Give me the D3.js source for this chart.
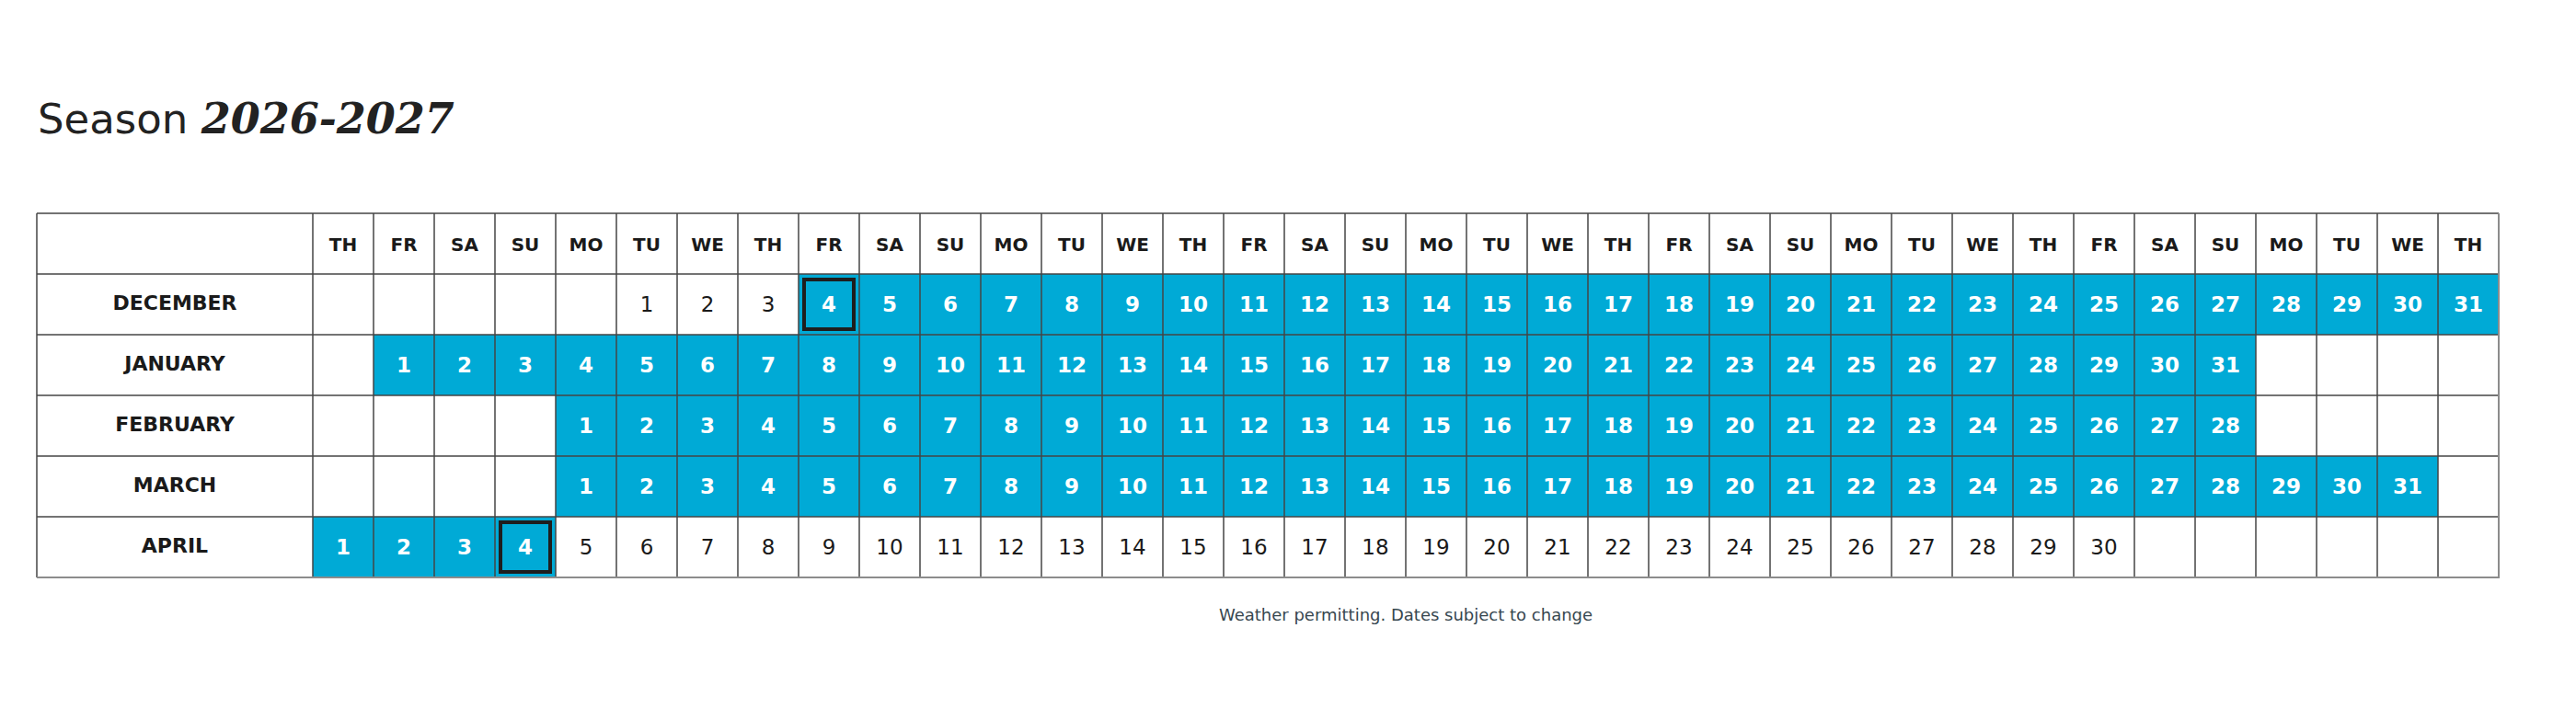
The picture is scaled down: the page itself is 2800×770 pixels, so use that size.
<!DOCTYPE html>
<html>
<head>
<meta charset="utf-8">
<script src="https://cdn.jsdelivr.net/npm/d3@7"></script>
<style>
  html, body { margin: 0; padding: 0; background: #fff; }
  svg { display: block; font-family: "DejaVu Sans", sans-serif; }
</style>
</head>
<body>
<div id="chart"></div>
<script>
// Season calendar, Dec 2026 - Apr 2027
const weekdayLabels = ['TH', 'FR', 'SA', 'SU', 'MO', 'TU', 'WE',
  'TH', 'FR', 'SA', 'SU', 'MO', 'TU', 'WE',
  'TH', 'FR', 'SA', 'SU', 'MO', 'TU', 'WE',
  'TH', 'FR', 'SA', 'SU', 'MO', 'TU', 'WE',
  'TH', 'FR', 'SA', 'SU', 'MO', 'TU', 'WE',
  'TH'];
const months = ['DECEMBER', 'JANUARY', 'FEBRUARY', 'MARCH', 'APRIL'];
// column (0-based) of the 1st of each month
const firstColumn = [5, 1, 4, 4, 0];
const daysInMonth = [31, 31, 28, 31, 30];
// open season range per month
const openFrom = [4, 1, 1, 1, 1];
const openTo = [31, 31, 28, 31, 4];
// opening and closing days get a frame
const markedDays = [{ month: 'DECEMBER', day: 4 }, { month: 'APRIL', day: 4 }];

const CONFIG = {
  width: 2800,
  height: 770,
  left: 40,
  labelRight: 340,
  right: 2716,
  top: 232,
  bottom: 628,
  blue: '#00aad6',
  grid: '#454545',
  edge: '#8c8c8c'
};

const svg = d3.select('#chart')
  .append('svg')
  .attr('width', CONFIG.width)
  .attr('height', CONFIG.height);

// Title
const title = svg.append('text')
  .attr('x', 41)
  .attr('y', 145)
  .style('font-size', '45px')
  .style('fill', '#222');
title.append('tspan').text('Season ');
title.append('tspan')
  .style('font-family', '"DejaVu Serif", serif')
  .style('font-size', '46px')
  .style('font-weight', 'bold')
  .style('font-style', 'italic')
  .text('2026-2027');

// Scales
const x = d3.scaleBand()
  .domain(d3.range(weekdayLabels.length))
  .range([CONFIG.labelRight, CONFIG.right]);

const y = d3.scaleBand()
  .domain(['header'].concat(months))
  .range([CONFIG.top, CONFIG.bottom]);

// Build cells
const cells = [];
months.forEach((m, i) => {
  for (let d = 1; d <= daysInMonth[i]; d++) {
    cells.push({
      month: m,
      day: d,
      col: firstColumn[i] + d - 1,
      open: d >= openFrom[i] && d <= openTo[i]
    });
  }
});

// Blue fills
svg.append('g')
  .selectAll('rect')
  .data(cells.filter(c => c.open))
  .join('rect')
  .attr('x', c => x(c.col))
  .attr('y', c => y(c.month))
  .attr('width', x.bandwidth())
  .attr('height', y.bandwidth())
  .attr('fill', CONFIG.blue);

// Grid lines
const grid = svg.append('g')
  .attr('stroke', CONFIG.grid)
  .attr('stroke-width', 1.5);

const colEdges = [CONFIG.left, CONFIG.labelRight].concat(d3.range(1, weekdayLabels.length).map(i => x(i)));
grid.selectAll('line.v')
  .data(colEdges)
  .join('line')
  .attr('class', 'v')
  .attr('x1', d => d).attr('x2', d => d)
  .attr('y1', CONFIG.top).attr('y2', CONFIG.bottom);

const rowEdges = [CONFIG.top].concat(months.map(m => y(m)));
grid.selectAll('line.h')
  .data(rowEdges)
  .join('line')
  .attr('class', 'h')
  .attr('x1', CONFIG.left).attr('x2', CONFIG.right)
  .attr('y1', d => d).attr('y2', d => d);

// lighter right and bottom edges
svg.append('path')
  .attr('d', `M${CONFIG.right},${CONFIG.top}V${CONFIG.bottom}H${CONFIG.left}`)
  .attr('fill', 'none')
  .attr('stroke', CONFIG.edge)
  .attr('stroke-width', 2);

// Frames for marked days
svg.append('g')
  .selectAll('rect')
  .data(markedDays.map(md => cells.find(c => c.month === md.month && c.day === md.day)))
  .join('rect')
  .attr('x', c => x(c.col) + 6)
  .attr('y', c => y(c.month) + 6)
  .attr('width', x.bandwidth() - 12)
  .attr('height', y.bandwidth() - 12)
  .attr('fill', 'none')
  .attr('stroke', '#1e1e1e')
  .attr('stroke-width', 4);

// Weekday header
svg.append('g')
  .selectAll('text')
  .data(weekdayLabels)
  .join('text')
  .attr('x', (d, i) => x(i) + x.bandwidth() / 2)
  .attr('y', y('header') + y.bandwidth() / 2 + 8)
  .attr('text-anchor', 'middle')
  .style('font-size', '20px')
  .style('font-weight', 'bold')
  .style('fill', '#1a1a1a')
  .text(d => d);

// Month labels
svg.append('g')
  .selectAll('text')
  .data(months)
  .join('text')
  .attr('x', (CONFIG.left + CONFIG.labelRight) / 2)
  .attr('y', d => y(d) + y.bandwidth() / 2 + 6)
  .attr('text-anchor', 'middle')
  .style('font-size', '22px')
  .style('font-weight', 'bold')
  .style('fill', '#1a1a1a')
  .text(d => d);

// Day numbers
svg.append('g')
  .selectAll('text')
  .data(cells)
  .join('text')
  .attr('x', c => x(c.col) + x.bandwidth() / 2)
  .attr('y', c => y(c.month) + y.bandwidth() / 2 + 8)
  .attr('text-anchor', 'middle')
  .style('font-size', '23px')
  .style('font-weight', c => c.open ? 'bold' : 'normal')
  .style('fill', c => c.open ? '#fff' : '#1a1a1a')
  .text(c => c.day);

// Footnote
svg.append('text')
  .attr('x', (CONFIG.labelRight + CONFIG.right) / 2)
  .attr('y', 675)
  .attr('text-anchor', 'middle')
  .style('font-size', '18px')
  .style('fill', '#37474f')
  .text('Weather permitting. Dates subject to change');
</script>
</body>
</html>
